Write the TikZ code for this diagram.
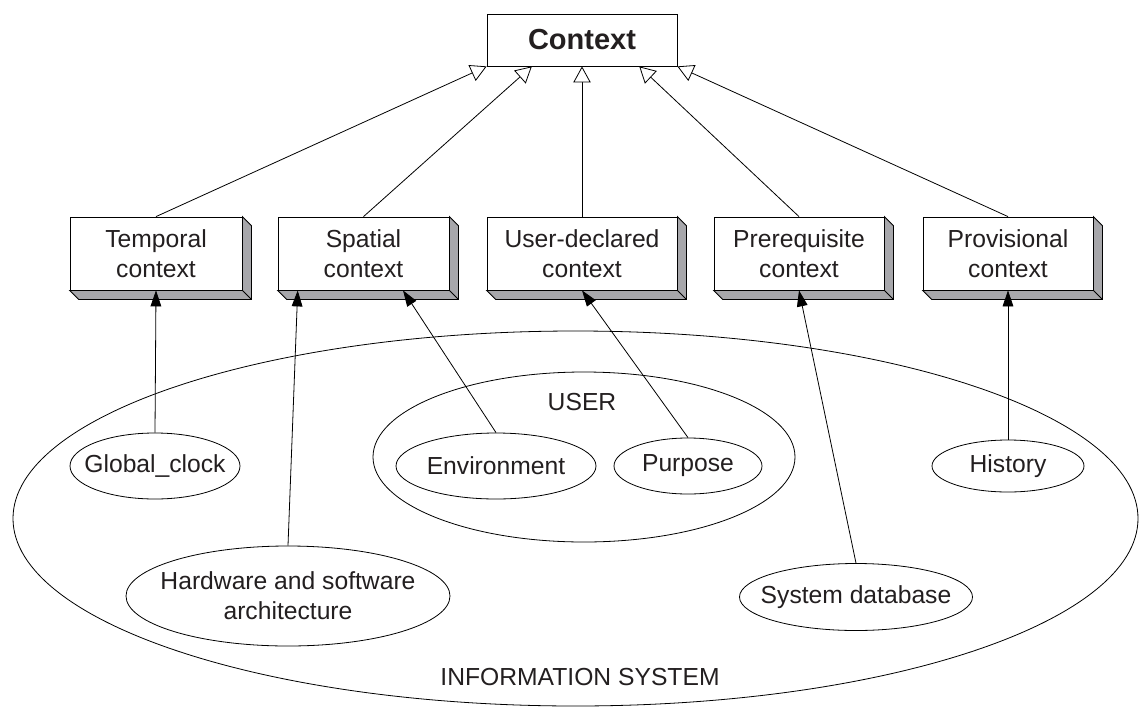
\documentclass[tikz,border=0pt]{standalone}
\usepackage{fontspec}
\setmainfont{Liberation Sans}
\usetikzlibrary{shapes.geometric,arrows.meta,calc}
\definecolor{txt}{HTML}{231F20}
\definecolor{side}{HTML}{A7A7AB}
\begin{document}
\begin{tikzpicture}[x=0.75pt,y=-0.75pt,
  lbl/.style={font=\fontsize{18.5}{22.5}\selectfont, text=txt, align=center},
  box3d/.style={lbl, draw, fill=white, line width=0.6pt, minimum height=54.75pt, inner sep=0pt},
  oval/.style={draw, ellipse, fill=white, line width=0.6pt, inner sep=0pt},
  region/.style={draw, ellipse, line width=0.6pt, inner sep=0pt},
  gen/.style={line width=0.6pt, -{Triangle[open, length=12pt, width=13pt, fill=white]}},
  dep/.style={line width=0.6pt, -{Triangle[length=12pt, width=8pt]}}
]
\useasboundingbox (0,0) rectangle (1139,707);

% regions
\node[region, minimum width=843.75pt, minimum height=281.25pt] (sys) at (575.5,518.5) {};
\node[region, minimum width=316.5pt, minimum height=127.5pt] (user) at (584,457) {};
\node[lbl] (userlbl) at (582,402) {USER};
\node[lbl] (syslbl) at (580,677) {INFORMATION SYSTEM};

% top class
\node[draw, fill=white, line width=0.6pt, minimum width=142.5pt, minimum height=39pt, inner sep=0pt,
      text=txt, font=\fontsize{21.75}{26}\selectfont\bfseries] (ctx) at (582,40) {Context};

% context boxes
\node[box3d, minimum width=129pt]    (t) at (156,253.5)   {Temporal\\context};
\node[box3d, minimum width=128.25pt] (s) at (363.5,253.5) {Spatial\\context};
\node[box3d, minimum width=142.5pt]  (u) at (582,253.5)   {User-declared\\context};
\node[box3d, minimum width=127.5pt]  (p) at (799,253.5)   {Prerequisite\\context};
\node[box3d, minimum width=127.5pt]  (v) at (1008,253.5)  {Provisional\\context};

\foreach \n in {t,s,u,p,v}{
  \filldraw[fill=side, line width=0.6pt]
    (\n.north east) -- ([shift={(9,9)}]\n.north east) -- ([shift={(9,9)}]\n.south east)
    -- ([shift={(9,9)}]\n.south west) -- (\n.south west) -- (\n.south east) -- cycle;
  \draw[line width=0.6pt] (\n.south east) -- ([shift={(9,9)}]\n.south east);
}

% leaf ovals (shape and text as separate nodes, so the text does not enlarge the shape)
\node[oval, minimum width=127.5pt, minimum height=49.5pt] (gc) at (155,466) {};
\node[lbl] (gct) at (gc.center) {Global\_clock};
\node[oval, minimum width=243pt, minimum height=75pt] (hw) at (288,596) {};
\node[lbl] (hwt) at (hw.center) {Hardware and software\\architecture};
\node[oval, minimum width=150pt, minimum height=49.5pt] (env) at (496,466) {};
\node[lbl] (envt) at (env.center) {Environment};
\node[oval, minimum width=111pt, minimum height=42pt] (pur) at (688,466) {};
\node[lbl] (purt) at (pur.center) {Purpose};
\node[oval, minimum width=174.75pt, minimum height=50.25pt] (db) at (856,597) {};
\node[lbl] (dbt) at (db.center) {System database};
\node[oval, minimum width=114pt, minimum height=39pt] (hist) at (1008,466) {};
\node[lbl] (histt) at (hist.center) {History};

% generalisation arrows
\draw[gen] (t.north) -- (ctx.south west);
\draw[gen] (s.north) -- ($(ctx.south west)!0.237!(ctx.south east)$);
\draw[gen] (u.north) -- (ctx.south);
\draw[gen] (p.north) -- ($(ctx.south west)!0.8!(ctx.south east)$);
\draw[gen] (v.north) -- (ctx.south east);

% dependency arrows
\draw[dep] (gc.north) -- (t.south);
\draw[dep] (hw.north) -- ($(s.south west)!0.117!(s.south east)$);
\draw[dep] (env.north) -- ($(s.south west)!0.73!(s.south east)$);
\draw[dep] (pur.north) -- (u.south);
\draw[dep] (db.north) -- (p.south);
\draw[dep] (hist.north) -- (v.south);
\end{tikzpicture}
\end{document}
